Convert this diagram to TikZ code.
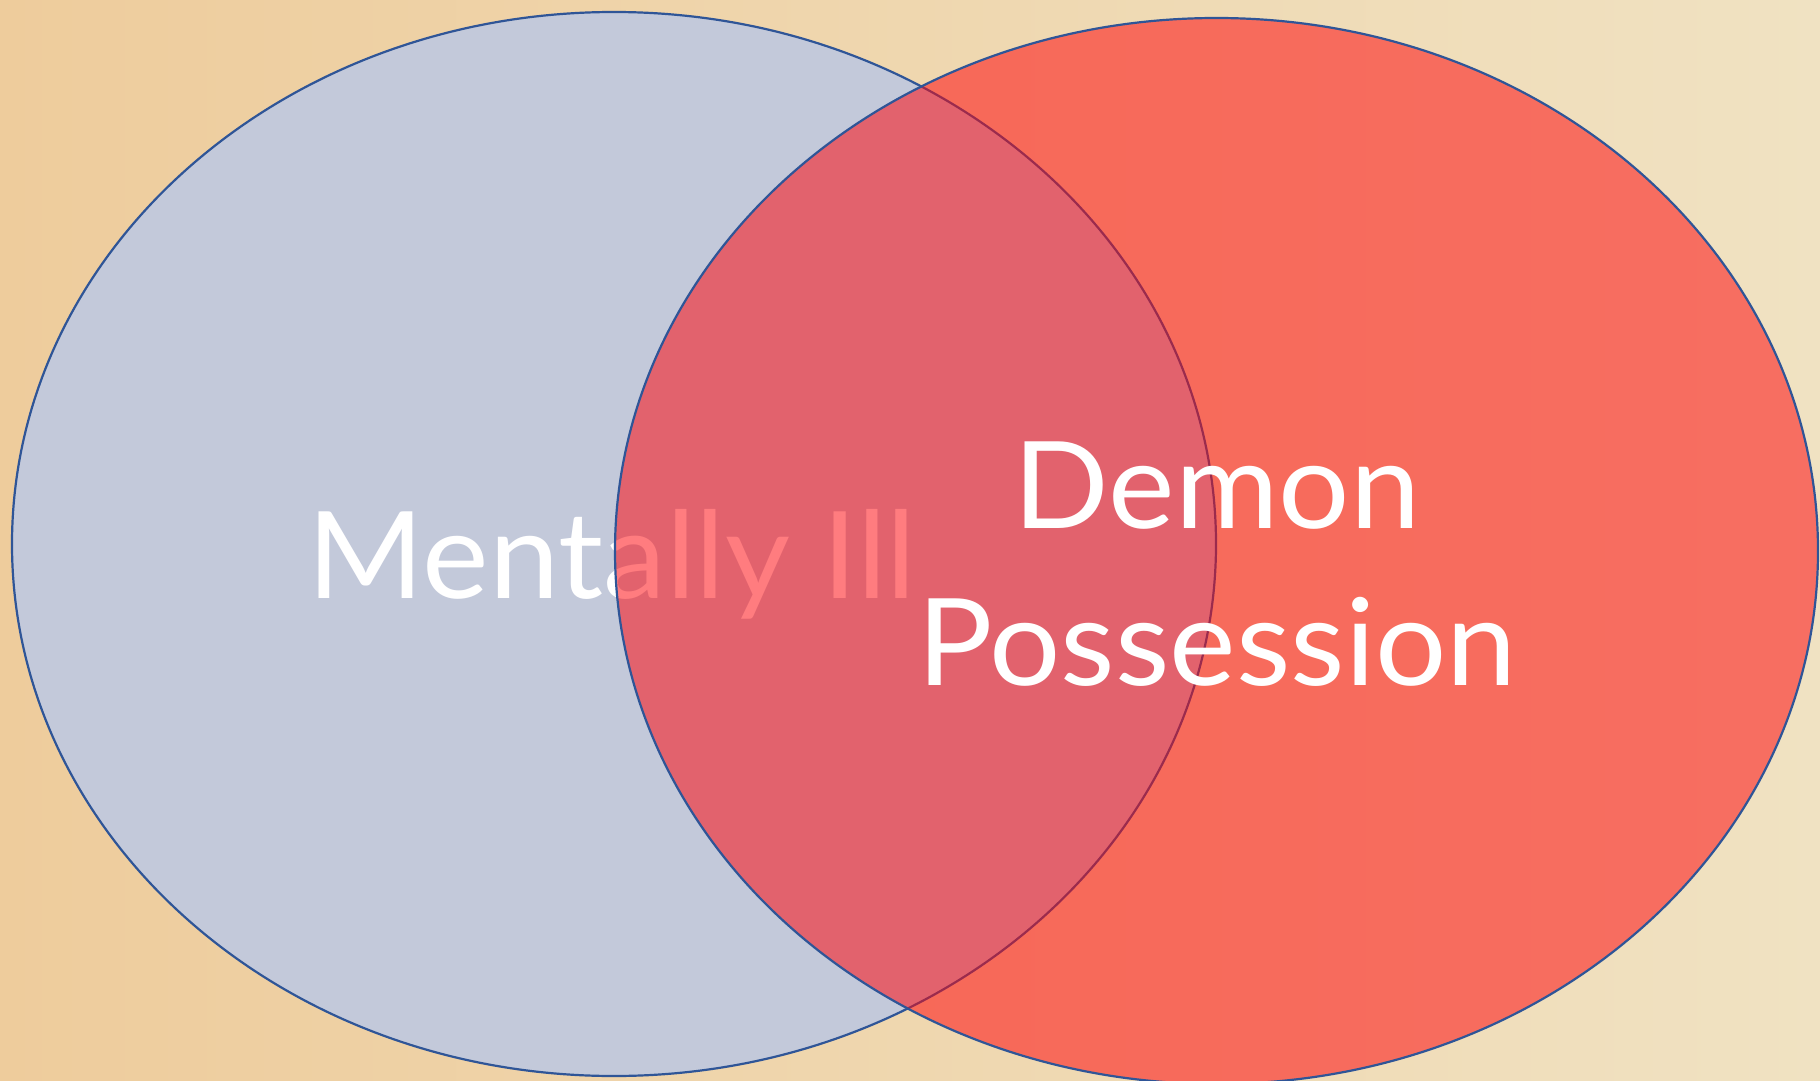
\documentclass[tikz,border=0pt]{standalone}
\usepackage{fontspec}
\setmainfont{Lato}[FakeStretch=1.04]
\definecolor{paperleft}{RGB}{238,204,156}
\definecolor{paperright}{RGB}{240,226,194}
\definecolor{leftfill}{RGB}{195,201,218}
\definecolor{rimblue}{RGB}{47,85,151}
\definecolor{redfill}{RGB}{255,5,10}
\tikzset{
  rim/.style={draw=rimblue, line width=2.2pt},
  bigtext/.style={text=white, inner sep=0pt, anchor=base, font=\fontsize{121}{150}\selectfont},
}
\begin{document}
\begin{tikzpicture}[x=1pt,y=-1pt]
  \useasboundingbox (0,0) rectangle (1820,1081);
  \shade[left color=paperleft, right color=paperright] (0,0) rectangle (1820,1081);
  % left ellipse
  \path[rim, fill=leftfill] (614,544) ellipse [x radius=602, y radius=532];
  \node[bigtext] (mi) at (612,598) {Mentally Ill};
  % right ellipse (semi-transparent red)
  \path[rim, fill=redfill, fill opacity=0.52] (1216.5,551) ellipse [x radius=601.5, y radius=533];
  \node[bigtext] (demon) at (1217,528) {Demon};
  \node[bigtext] (poss) at (1217,685) {Possession};
\end{tikzpicture}
\end{document}
